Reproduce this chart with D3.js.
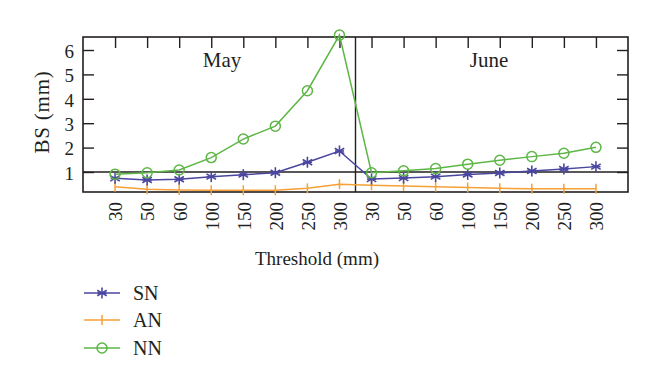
<!DOCTYPE html>
<html><head><meta charset="utf-8">
<script src="https://cdn.jsdelivr.net/npm/d3@7"></script>
<style>body{margin:0;background:#fff}svg{display:block}text{font-family:"Liberation Serif","DejaVu Serif",serif;fill:#231f20}</style>
</head><body><svg id="c" width="660" height="387"></svg>
<script>
const months = ["May", "June"];
const thresholds = [30, 50, 60, 100, 150, 200, 250, 300];
const yTicks = [1, 2, 3, 4, 5, 6];
const SN = [0.74, 0.67, 0.70, 0.81, 0.89, 0.97, 1.40, 1.86, 0.71, 0.75, 0.81, 0.90, 0.96, 1.04, 1.12, 1.22];
const AN = [0.40, 0.29, 0.26, 0.25, 0.25, 0.25, 0.33, 0.50, 0.46, 0.43, 0.40, 0.36, 0.33, 0.31, 0.31, 0.31];
const NN = [0.91, 0.97, 1.08, 1.59, 2.35, 2.88, 4.33, 6.61, 0.97, 1.05, 1.14, 1.32, 1.48, 1.63, 1.77, 2.01];
const seriesNames = ["SN", "AN", "NN"];
const colors = {SN: "#4a46a0", AN: "#f7a035", NN: "#5db646"};

const keys = [];
months.forEach(m => thresholds.forEach(t => keys.push(m + "-" + t)));
const data = {SN, AN, NN};

const L = 83, R = 628, T = 37, B = 192;
const svg = d3.select("#c");
const x = d3.scalePoint().domain(keys).range([L, R]).padding(1);
const y = d3.scaleLinear().domain([0.18, 6.533]).range([B, T]);

// frame
svg.append("rect").attr("x", L).attr("y", T).attr("width", R - L).attr("height", B - T)
  .attr("fill", "none").attr("stroke", "#231f20").attr("stroke-width", 1.6);

// left axis (inward ticks)
const yl = svg.append("g").attr("transform", `translate(${L},0)`)
  .call(d3.axisLeft(y).tickValues(yTicks).tickSize(-11).tickPadding(9).tickFormat(d3.format("d")));
yl.select(".domain").remove();
yl.selectAll("line").attr("stroke", "#231f20").attr("stroke-width", 1.4);
yl.selectAll("text").attr("font-size", 19).attr("font-family", "Liberation Serif").attr("fill", "#231f20").attr("dy", "0.38em");

// right axis inward ticks
const yr = svg.append("g").attr("transform", `translate(${R},0)`)
  .call(d3.axisLeft(y).tickValues(yTicks).tickSize(11).tickFormat(""));
yr.select(".domain").remove();
yr.selectAll("line").attr("stroke", "#231f20").attr("stroke-width", 1.4);

// top axis inward ticks
const xt = svg.append("g").attr("transform", `translate(0,${T})`)
  .call(d3.axisBottom(x).tickSize(11).tickFormat(""));
xt.select(".domain").remove();
xt.selectAll("line").attr("stroke", "#231f20").attr("stroke-width", 1.4);

// bottom labels
const xb = svg.append("g").attr("transform", `translate(0,${B})`)
  .call(d3.axisBottom(x).tickSize(0).tickFormat(k => k.split("-")[1]));
xb.select(".domain").remove();
xb.selectAll("text").attr("font-size", 19).attr("font-family", "Liberation Serif").attr("fill", "#231f20")
  .attr("transform", "rotate(-90)").attr("text-anchor", "end").attr("x", -10).attr("y", 0).attr("dy", "0.36em");

// reference lines
svg.append("line").attr("x1", L).attr("x2", R).attr("y1", y(1)).attr("y2", y(1))
  .attr("stroke", "#231f20").attr("stroke-width", 1.4);
const xm = (x(keys[7]) + x(keys[8])) / 2;
svg.append("line").attr("x1", xm).attr("x2", xm).attr("y1", T).attr("y2", B)
  .attr("stroke", "#231f20").attr("stroke-width", 1.4);

// month labels
svg.append("text").attr("x", 222).attr("y", 67).attr("text-anchor", "middle")
  .attr("font-size", 21).text(months[0]);
svg.append("text").attr("x", 489).attr("y", 67).attr("text-anchor", "middle")
  .attr("font-size", 21).text(months[1]);

// marker drawing
function marker(g, name, cx, cy) {
  const c = colors[name];
  if (name === "SN") {
    const r = 5.5;
    for (let a = 0; a < 3; a++) {
      const ang = Math.PI / 2 + a * Math.PI / 3;
      g.append("line").attr("x1", cx - r * Math.cos(ang)).attr("y1", cy - r * Math.sin(ang))
        .attr("x2", cx + r * Math.cos(ang)).attr("y2", cy + r * Math.sin(ang))
        .attr("stroke", c).attr("stroke-width", 1.6);
    }
    g.append("line").attr("x1", cx - 4.5).attr("x2", cx + 4.5).attr("y1", cy).attr("y2", cy)
      .attr("stroke", c).attr("stroke-width", 1.6);
  } else if (name === "AN") {
    g.append("line").attr("x1", cx).attr("x2", cx).attr("y1", cy - 5).attr("y2", cy + 5)
      .attr("stroke", c).attr("stroke-width", 1.5);
  } else {
    g.append("circle").attr("cx", cx).attr("cy", cy).attr("r", 5)
      .attr("fill", "none").attr("stroke", c).attr("stroke-width", 1.5);
  }
}

const line = d3.line().x((d, i) => x(keys[i])).y(d => y(d));
["AN", "SN", "NN"].forEach(name => {
  const g = svg.append("g");
  g.append("path").datum(data[name]).attr("d", line).attr("fill", "none")
    .attr("stroke", colors[name]).attr("stroke-width", 1.5);
  data[name].forEach((v, i) => marker(g, name, x(keys[i]), y(v)));
});

// axis titles
svg.append("text").attr("transform", `translate(49,${112}) rotate(-90)`).attr("text-anchor", "middle")
  .attr("font-size", 21).attr("letter-spacing", 0.8).text("BS (mm)");
svg.append("text").attr("x", 317).attr("y", 265).attr("text-anchor", "middle")
  .attr("font-size", 19).text("Threshold (mm)");

// legend
const ly = [293, 320, 348];
seriesNames.forEach((name, i) => {
  const g = svg.append("g");
  g.append("line").attr("x1", 84).attr("x2", 120).attr("y1", ly[i]).attr("y2", ly[i])
    .attr("stroke", colors[name]).attr("stroke-width", 1.5);
  marker(g, name, 102, ly[i]);
  g.append("text").attr("x", 133).attr("y", ly[i]).attr("dy", "0.36em").attr("font-size", 20).text(name);
});
</script></body></html>
